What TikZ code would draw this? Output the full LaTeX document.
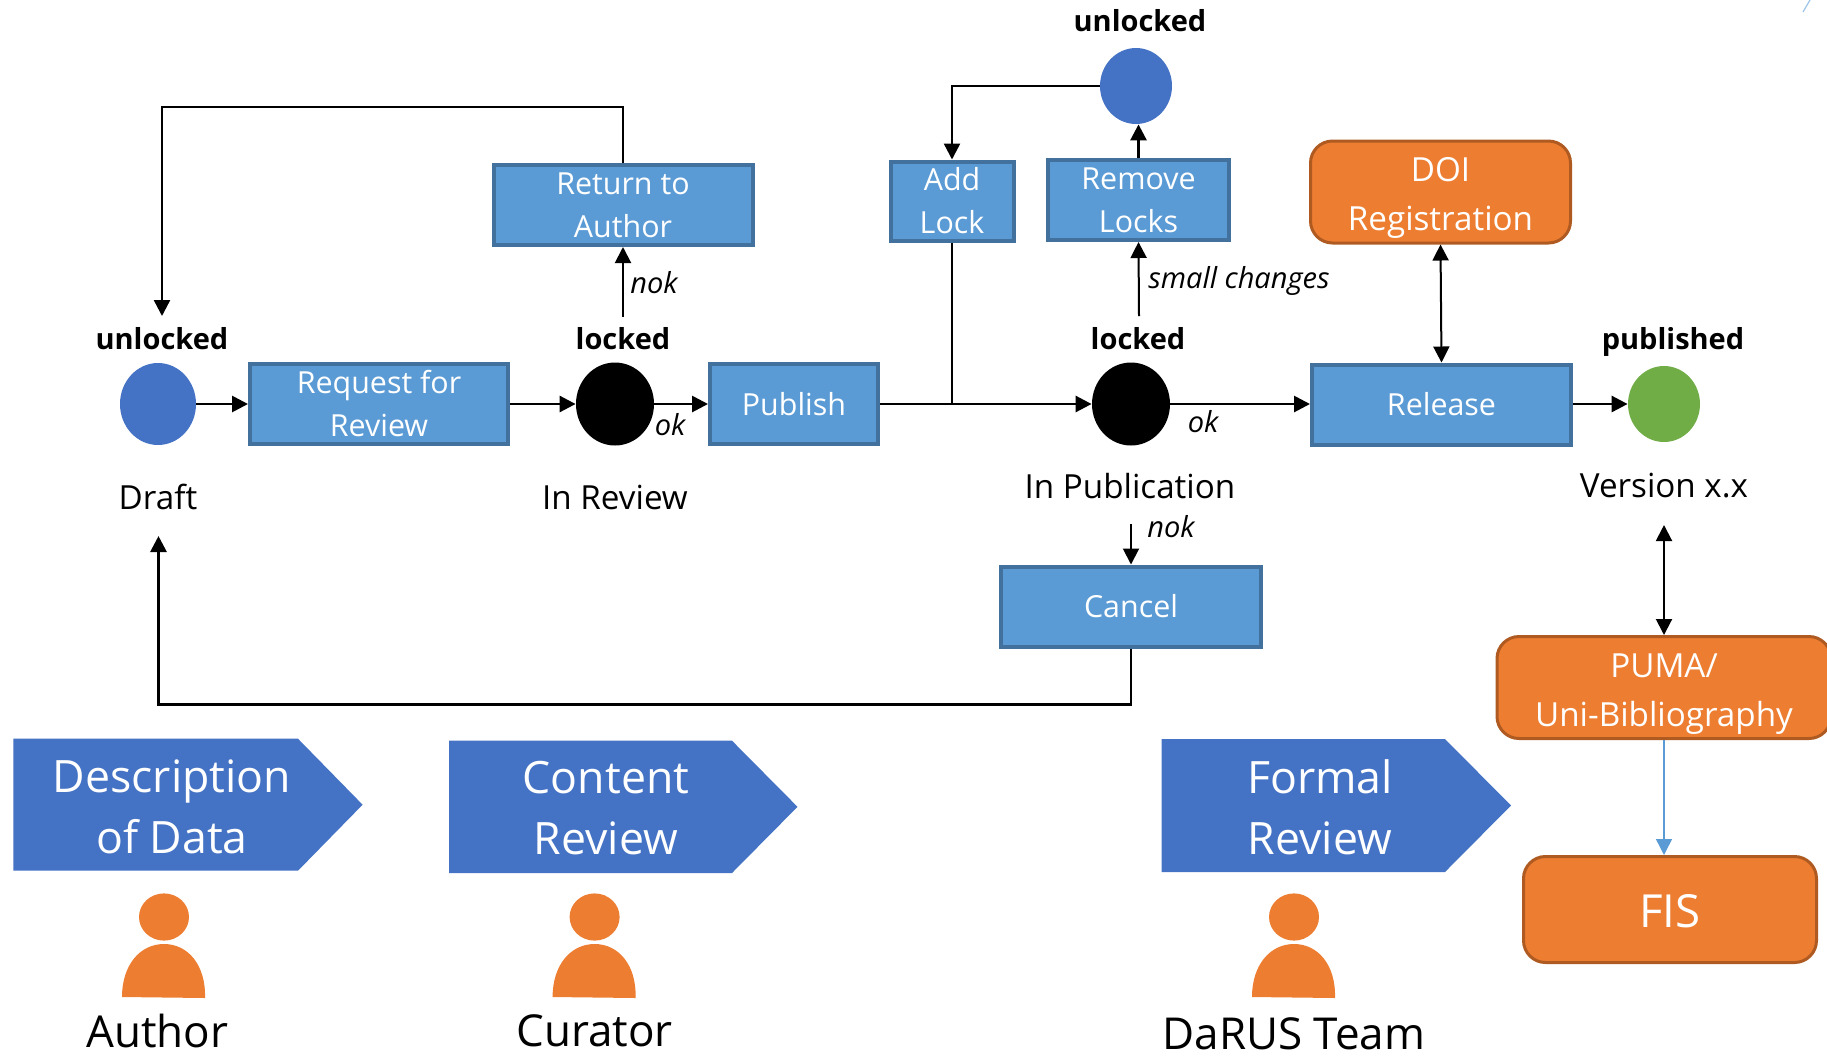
\documentclass[tikz,border=0pt]{standalone}
\usepackage{fontspec}
\setmainfont{Open Sans}
\usetikzlibrary{arrows.meta,shapes.geometric}
\definecolor{boxfill}{HTML}{5B9BD5}
\definecolor{boxline}{HTML}{41719C}
\definecolor{bluefill}{HTML}{4472C4}
\definecolor{orfill}{HTML}{ED7D31}
\definecolor{orline}{HTML}{AE5A21}
\definecolor{grfill}{HTML}{70AD47}
\newcommand{\topstrut}{\rule{0pt}{18pt}}
\tikzset{
  procbox/.style={draw=boxline,fill=boxfill,line width=2pt,text=white,align=center,inner sep=0pt,font=\fontsize{15.2}{21.5}\selectfont},
  extbox/.style={draw=orline,fill=orfill,line width=1.5pt,rounded corners=11pt,text=white,align=center,inner sep=0pt,font=\fontsize{16.6}{24.5}\selectfont},
  statedot/.style={ellipse,inner sep=0pt},
  statelbl/.style={font=\fontsize{14.5}{16}\selectfont\bfseries,inner sep=0pt,anchor=base},
  namelbl/.style={font=\fontsize{16.6}{18}\selectfont,inner sep=0pt},
  condlbl/.style={font=\fontsize{14.5}{16}\selectfont\itshape,inner sep=0pt},
  phaselbl/.style={text=white,align=center,inner sep=0pt,font=\fontsize{22.3}{30.5}\selectfont},
  rolelbl/.style={font=\fontsize{22}{24}\selectfont,inner sep=0pt},
  arr/.style={-{Triangle[length=8pt,width=8pt]},line width=1.4pt,black},
  darr/.style={{Triangle[length=8pt,width=8pt]}-{Triangle[length=8pt,width=8pt]},line width=1pt,black},
  barr/.style={-{Triangle[length=8pt,width=8pt]},line width=0.7pt,boxfill},
  plain/.style={line width=1pt,black}
}
\newcommand{\drawperson}[1]{%
  \fill[orfill] (#1,917) ellipse[x radius=12.5pt,y radius=11.8pt];
  \fill[orfill] (#1-42,997) .. controls (#1-42,965) and (#1-24,944) .. (#1,944)
     .. controls (#1+24,944) and (#1+42,965) .. (#1+41,998) -- cycle;
}
\begin{document}
\begin{tikzpicture}[x=0.5pt,y=-0.5pt]
\useasboundingbox (0,0) rectangle (1827,1057);
% state dots
\node[statedot,fill=bluefill,minimum width=38pt,minimum height=41pt] (draft) at (158,404) {};
\node[statedot,fill=black,minimum width=39pt,minimum height=41.5pt] (review) at (615,404) {};
\node[statedot,fill=black,minimum width=39pt,minimum height=41.5pt] (pubst) at (1131,404) {};
\node[statedot,fill=grfill,minimum width=36pt,minimum height=38pt] (version) at (1664,404) {};
\node[statedot,fill=bluefill,minimum width=36pt,minimum height=38pt] (unl) at (1136,86) {};
% process boxes
\node[procbox,minimum width=129pt,minimum height=40pt] (req) at (379,404) {Request for\\Review};
\node[procbox,minimum width=84pt,minimum height=40pt] (publish) at (794,404) {Publish};
\node[procbox,minimum width=129.5pt,minimum height=40pt] (rta) at (623,205) {Return to\\Author};
\node[procbox,minimum width=61.5pt,minimum height=39.5pt] (addlock) at (952,201) {Add\\Lock};
\node[procbox,minimum width=90.5pt,minimum height=40pt] (remlock) at (1138.5,200) {Remove\\Locks};
\node[procbox,minimum width=129.5pt,minimum height=40pt] (release) at (1441.5,404.5) {Release};
\node[procbox,minimum width=130pt,minimum height=40pt] (cancel) at (1131,606.5) {Cancel};
% external systems
\node[extbox,minimum width=130pt,minimum height=51pt] (doi) at (1440.5,192) {\topstrut DOI\\Registration};
\node[extbox,minimum width=167pt,minimum height=51pt] (puma) at (1664,687.5) {\topstrut PUMA/\\Uni-Bibliography};
\node[extbox,minimum width=146.5pt,minimum height=53pt,font=\fontsize{22.8}{24}\selectfont] (fis) at (1670,909.5) {\rule{0pt}{18.5pt}FIS};
% state labels
\node[statelbl] (l1) at (162,349) {unlocked};
\node[statelbl] (l2) at (623,349) {locked};
\node[statelbl] (l3) at (1138,349) {locked};
\node[statelbl] (l4) at (1673,349) {published};
\node[statelbl] (l5) at (1140,31) {unlocked};
\node[namelbl] (n1) at (158,497) {Draft};
\node[namelbl] (n2) at (615,497) {In Review};
\node[namelbl] (n3) at (1130,486) {In Publication};
\node[namelbl] (n4) at (1664,486) {Version x.x};
% condition labels
\node[condlbl] (c1) at (654,283) {nok};
\node[condlbl] (c2) at (670,425) {ok};
\node[condlbl] (c3) at (1239,280.5) {small changes};
\node[condlbl] (c4) at (1203,421.5) {ok};
\node[condlbl] (c5) at (1171,527) {nok};
% free ends
\coordinate (toUnl) at (162,316);
\coordinate (fromReview) at (623,317);
\coordinate (fromPub) at (1139,316);
\coordinate (toDraft) at (158.5,536);
\coordinate (cancelIn) at (1131,524);
\coordinate (verOut) at (1664,525);
% connectors
\draw[arr] (draft.east) -- (req.west);
\draw[arr] (req.east) -- (review.west);
\draw[arr] (review.east) -- (publish.west);
\draw[arr] (publish.east) -- (pubst.west);
\draw[arr] (pubst.east) -- (release.west |- pubst.east);
\draw[arr] (release.east |- version.west) -- (version.west);
\draw[arr,line width=1pt] (fromReview) -- (rta.south);
\draw[arr,line width=1.2pt] (rta.north) -- ++(0,-56) -| (toUnl);
\draw[arr,line width=1pt] (fromPub) -- (remlock.south);
\draw[arr] (remlock.north) -- (remlock.north |- unl.south);
\draw[arr,line width=1.2pt] (unl.west) -| (addlock.north);
\draw[plain] (addlock.south) -- (addlock.south |- publish.east);
\draw[darr] (doi.south) -- (release.north);
\draw[arr,line width=1pt] (cancelIn) -- (cancel.north);
\draw[arr] (cancel.south) -- ++(0,56) -| (toDraft);
\draw[darr] (verOut) -- (puma.north);
\draw[barr] (puma.south) -- (puma.south |- fis.north);
% phase arrows
\fill[bluefill] (13.4,738.7) -- (298,738.7) -- (362.6,804.7) -- (298,870.7) -- (13.4,870.7) -- cycle;
\fill[bluefill] (449,740.7) -- (732,740.7) -- (797.5,806.8) -- (732,873) -- (449,873) -- cycle;
\fill[bluefill] (1161.5,739) -- (1445,739) -- (1511,805.5) -- (1445,872) -- (1161.5,872) -- cycle;
\node[phaselbl] (p1) at (172,806.5) {Description\\of Data};
\node[phaselbl] (p2) at (606,808.5) {Content\\Review};
\node[phaselbl] (p3) at (1320,807) {Formal\\Review};
% persons
\drawperson{164}
\drawperson{594.6}
\drawperson{1294}
\node[rolelbl] (r1) at (157.4,1031) {Author};
\node[rolelbl] (r2) at (594.6,1031) {Curator};
\node[rolelbl] (r3) at (1294,1034) {DaRUS Team};
% faint mark in the corner
\draw[boxfill!60,line width=0.6pt] (1803,12) -- (1810,0);
\end{tikzpicture}
\end{document}
